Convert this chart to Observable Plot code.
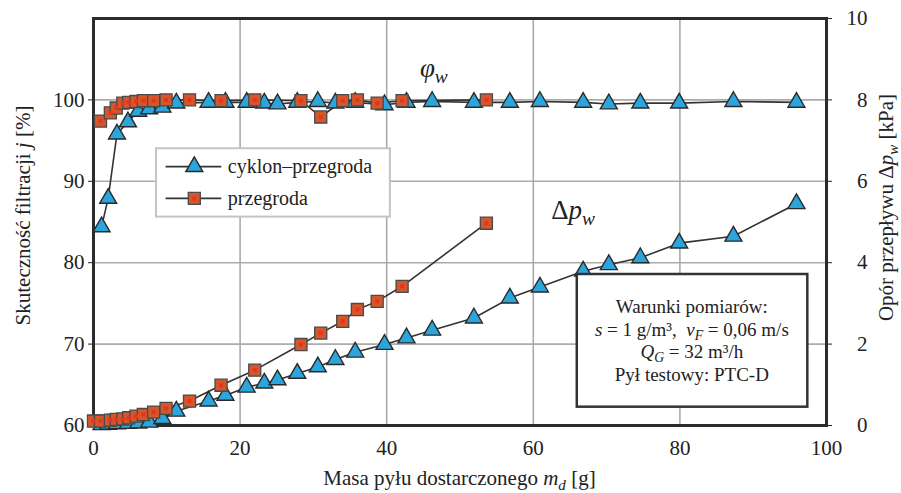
<!DOCTYPE html>
<html>
<head>
<meta charset="utf-8">
<script src="https://cdn.jsdelivr.net/npm/d3@7"></script>
<script src="https://cdn.jsdelivr.net/npm/@observablehq/plot@0.6"></script>
<style>
  body { margin: 0; background: #fff; }
  #chart svg { display: block; }
</style>
</head>
<body>
<div id="chart"></div>
<script>
// ---- tick labels ----
const xTicks = [0, 20, 40, 60, 80, 100];
const effTicks = [60, 70, 80, 90, 100];
const dpTicks = [0, 2, 4, 6, 8, 10];

// ---- series: cyklon–przegroda (triangles) ----
const cpMass = [1.1, 2.0, 3.2, 4.7, 6.1, 7.6, 9.4, 11.3, 15.7, 18.0, 20.9, 23.3, 25.1, 27.8, 30.6, 33.0, 35.7, 39.7, 42.7, 46.2, 51.9, 56.8, 60.9, 66.8, 70.3, 74.6, 79.9, 87.3, 95.9];
const cpEff = [84.4, 87.9, 95.8, 97.3, 98.6, 98.9, 99.1, 99.6, 99.7, 99.7, 99.7, 99.6, 99.5, 99.7, 99.8, 99.6, 99.7, 99.4, 99.7, 99.8, 99.7, 99.7, 99.8, 99.7, 99.5, 99.6, 99.6, 99.8, 99.7];
const cpDp = [0.02, 0.03, 0.04, 0.05, 0.06, 0.08, 0.17, 0.35, 0.60, 0.74, 0.94, 1.04, 1.12, 1.28, 1.44, 1.62, 1.80, 1.99, 2.15, 2.34, 2.64, 3.13, 3.40, 3.79, 3.95, 4.12, 4.48, 4.65, 5.45];

// ---- series: przegroda (squares) ----
const pMass = [0, 0.95, 2.3, 3.1, 4.0, 4.8, 5.8, 6.8, 8.2, 9.9, 13.1, 17.4, 22.0, 28.3, 31.0, 34.0, 36.0, 38.7, 42.1, 53.6];
const pEff = [null, 97.4, 98.4, 99.0, 99.6, 99.7, 99.8, 99.9, 99.9, 100.0, 100.0, 99.9, 100.0, 99.9, 97.9, 99.9, 100.0, 99.6, 99.9, 100.0];
const pDp = [0.11, 0.11, 0.13, 0.15, 0.16, 0.19, 0.23, 0.27, 0.33, 0.42, 0.60, 0.99, 1.36, 1.99, 2.27, 2.56, 2.85, 3.05, 3.42, 4.97];

const seriesNames = ["cyklon–przegroda", "przegroda"];

// right axis (kPa) mapped onto left axis (%) : 0..10 kPa <-> 60..110 %
const toLeft = v => 60 + 5 * v;

const cpEffRows = cpMass.map((m, i) => ({m, v: cpEff[i]}));
const cpDpRows = cpMass.map((m, i) => ({m, v: toLeft(cpDp[i])}));
const pEffRows = pMass.map((m, i) => ({m, v: pEff[i]})).filter(d => d.v != null);
const pDpRows = pMass.map((m, i) => ({m, v: toLeft(pDp[i])}));

const FONT = "'Liberation Serif', 'DejaVu Serif', serif";
const TRI_FILL = "#2ba5dc";
const SQ_FILL = "#d2572c";
const SQ_CORE = "#e8341c";
const LINE = "#333";
const INK = "#222";

const triDots = rows => Plot.dot(rows, {x: "m", y: "v", symbol: "triangle", r: 6.3, fill: TRI_FILL, stroke: "#2a2a2a", strokeWidth: 1.4});
const sqDots = rows => [
  Plot.dot(rows, {x: "m", y: "v", symbol: "square", r: 6.8, fill: SQ_FILL, stroke: "#4a4a4a", strokeWidth: 1.3}),
  Plot.dot(rows, {x: "m", y: "v", symbol: "square", r: 2.3, fill: SQ_CORE})
];
const lineOf = rows => Plot.line(rows, {x: "m", y: "v", stroke: LINE, strokeWidth: 1.6});

// legend & annotation anchor positions in data space
const legendBox = [{x1: 8.6, x2: 40.5, y1: 85.6, y2: 94.0}];
const legendRows = [{y: 91.8}, {y: 87.9}];
const infoBox = [{x1: 66.0, x2: 97.45, y1: 62.25, y2: 78.55}];

const plot = Plot.plot({
  width: 901,
  height: 493,
  marginLeft: 93,
  marginRight: 75,
  marginTop: 18,
  marginBottom: 68,
  x: {domain: [0, 100]},
  y: {domain: [60, 110]},
  style: {fontFamily: FONT, fontSize: "21px", color: INK, background: "#fff", overflow: "visible"},
  marks: [
    Plot.gridX([20, 40, 60, 80], {stroke: "#ababab", strokeOpacity: 1, strokeWidth: 1.6}),
    Plot.gridY([70, 80, 90, 100], {stroke: "#ababab", strokeOpacity: 1, strokeWidth: 1.6}),
    Plot.axisX(xTicks, {tickSize: 0, tickPadding: 15, label: null, fontSize: 21}),
    Plot.axisY(effTicks, {anchor: "left", tickSize: 5, tickPadding: 4, label: null, fontSize: 21}),
    Plot.axisY(dpTicks.map(toLeft), {anchor: "right", tickSize: 5, tickPadding: 36, textAnchor: "end", tickFormat: d => String((d - 60) / 5), label: null, fontSize: 21}),
    Plot.frame({stroke: "#2b2b2b", strokeWidth: 3}),
    lineOf(cpEffRows),
    lineOf(pEffRows),
    lineOf(cpDpRows),
    lineOf(pDpRows),
    triDots(cpEffRows),
    triDots(cpDpRows),
    ...sqDots(pEffRows),
    ...sqDots(pDpRows),
    // legend
    Plot.rect(legendBox, {x1: "x1", x2: "x2", y1: "y1", y2: "y2", fill: "#fff", stroke: "#c4c4c4", strokeWidth: 2}),
    Plot.ruleY(legendRows, {y: "y", x1: 9.9, x2: 17.5, stroke: LINE, strokeWidth: 1.6}),
    triDots([{m: 13.75, v: legendRows[0].y}]),
    ...sqDots([{m: 13.75, v: legendRows[1].y}]),
    // measurement conditions box
    Plot.rect(infoBox, {x1: "x1", x2: "x2", y1: "y1", y2: "y2", fill: "#fff", stroke: "#333", strokeWidth: 2.5})
  ]
});

document.getElementById("chart").appendChild(plot);

const sx = plot.scale("x"), sy = plot.scale("y");
const svg = d3.select(plot);
const g = svg.append("g").attr("font-family", FONT).attr("fill", INK);

function rich(x, y, parts, {size = 20, anchor = "start", rotate = false} = {}) {
  const t = g.append("text").attr("font-size", size).attr("text-anchor", anchor);
  if (rotate) t.attr("transform", `translate(${x},${y}) rotate(-90)`);
  else t.attr("x", x).attr("y", y);
  let shift = 0;
  for (const p of parts) {
    const s = t.append("tspan").text(p.t);
    if (p.i) s.attr("font-style", "italic");
    const target = p.sub ? size * 0.22 : 0;
    if (target !== shift) { s.attr("dy", target - shift); shift = target; }
    if (p.sub) s.attr("font-size", size * 0.72);
  }
  return t;
}

const midX = (sx.apply(0) + sx.apply(100)) / 2;
const midY = (sy.apply(60) + sy.apply(110)) / 2;

// axis titles
rich(midX, 485, [{t: "Masa pyłu dostarczonego "}, {t: "m", i: true}, {t: "d", i: true, sub: true}, {t: " [g]"}], {size: 21, anchor: "middle"});
rich(30, midY - 6, [{t: "Skuteczność filtracji "}, {t: "j", i: true}, {t: " [%]"}], {size: 21, anchor: "middle", rotate: true});
rich(893, midY - 14, [{t: "Opór przepływu Δ"}, {t: "p", i: true}, {t: "w", i: true, sub: true}, {t: " [kPa]"}], {size: 21, anchor: "middle", rotate: true});

// curve annotations
rich(sx.apply(44.6), sy.apply(102.75), [{t: "φ", i: true}, {t: "w", i: true, sub: true}], {size: 27});
rich(sx.apply(62.5), sy.apply(85.3), [{t: "Δ"}, {t: "p", i: true}, {t: "w", i: true, sub: true}], {size: 27});

// legend labels
const lx = sx.apply(18.4);
rich(lx, sy.apply(legendRows[0].y) + 7, [{t: seriesNames[0]}], {size: 20});
rich(lx, sy.apply(legendRows[1].y) + 7, [{t: seriesNames[1]}], {size: 20});

// measurement conditions
const cx = sx.apply(81.7);
rich(cx, sy.apply(73.76), [{t: "Warunki pomiarów:"}], {size: 19, anchor: "middle"});
rich(cx, sy.apply(70.93), [{t: "s", i: true}, {t: " = 1 g/m³,  "}, {t: "v", i: true}, {t: "F", i: true, sub: true}, {t: " = 0,06 m/s"}], {size: 19, anchor: "middle"});
rich(cx, sy.apply(68.23), [{t: "Q", i: true}, {t: "G", i: true, sub: true}, {t: " = 32 m³/h"}], {size: 19, anchor: "middle"});
rich(cx, sy.apply(65.41), [{t: "Pył testowy: PTC-D"}], {size: 19, anchor: "middle"});
</script>
</body>
</html>
